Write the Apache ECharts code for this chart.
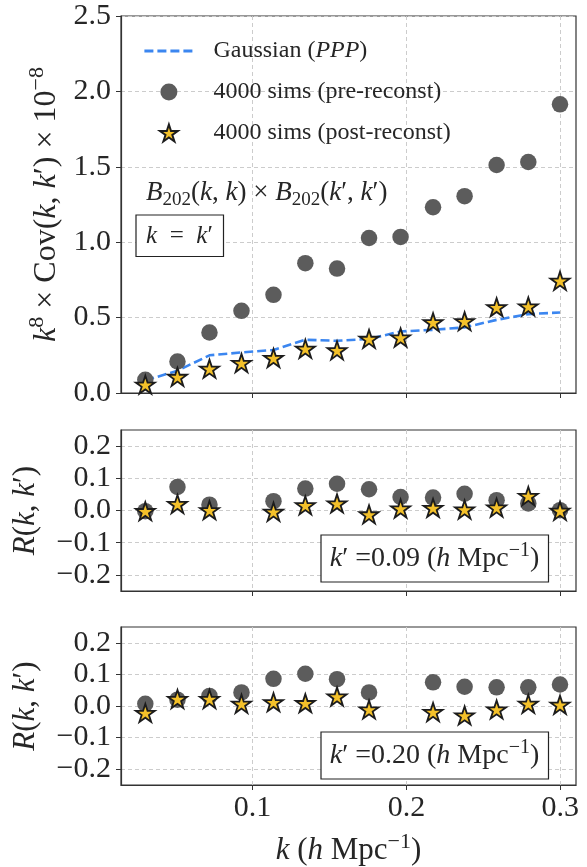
<!DOCTYPE html>
<html>
<head>
<meta charset="utf-8">
<script src="https://cdn.jsdelivr.net/npm/echarts@6/dist/echarts.min.js"></script>
<style>html,body{margin:0;padding:0;background:#fff}#c{width:587px;height:867px}</style>
</head>
<body>
<div id="c"></div>
<script>
// ---- data ----
const kValues = [0.0303, 0.0512, 0.0720, 0.0928, 0.1136, 0.1343, 0.1549, 0.1757, 0.1962, 0.2173, 0.2378, 0.2586, 0.2792, 0.2998];
const gaussianCov = [0.083, 0.148, 0.250, 0.269, 0.285, 0.353, 0.346, 0.358, 0.408, 0.419, 0.435, 0.485, 0.523, 0.534];
const preCov  = [0.088, 0.209, 0.401, 0.545, 0.651, 0.861, 0.825, 1.028, 1.035, 1.232, 1.305, 1.512, 1.532, 1.914];
const postCov = [0.055, 0.107, 0.161, 0.199, 0.232, 0.293, 0.283, 0.359, 0.368, 0.469, 0.476, 0.569, 0.574, 0.744];
// correlation with k' = 0.09 (point at k' omitted)
const r09Pre  = [-0.002, 0.073, 0.018, null, 0.029, 0.068, 0.083, 0.066, 0.042, 0.040, 0.052, 0.032, 0.022, 0.001];
const r09Post = [-0.002, 0.020, 0.001, null, -0.004, 0.016, 0.022, -0.012, 0.006, 0.008, 0.003, 0.009, 0.045, -0.001];
// correlation with k' = 0.20 (point at k' omitted)
const r20Pre  = [0.007, 0.020, 0.032, 0.043, 0.086, 0.102, 0.085, 0.043, null, 0.075, 0.061, 0.059, 0.059, 0.068];
const r20Post = [-0.022, 0.022, 0.022, 0.007, 0.012, 0.009, 0.030, -0.011, null, -0.019, -0.030, -0.011, 0.007, 0.004];
const xTicks = [0.1, 0.2, 0.3];
const covTicks = [0, 0.5, 1.0, 1.5, 2.0, 2.5];
const rTicks = [-0.2, -0.1, 0, 0.1, 0.2];
const seriesNames = ['Gaussian (PPP)', '4000 sims (pre-reconst)', '4000 sims (post-reconst)'];

// ---- styling ----
const FONT = "'Liberation Serif', 'Times New Roman', serif";
const INK = '#262626';
const AXIS = '#333333';
const GRIDC = '#cccccc';
const DOT = '#5c5c5c';
const STARFILL = '#f4c12a';
const BLUE = '#3b86f0';

function starPath() {
  const pts = [];
  for (let j = 0; j < 10; j++) {
    const r = j % 2 === 0 ? 1 : 0.381966;
    const a = Math.PI / 2 + j * Math.PI / 5;
    pts.push((r * Math.cos(a)).toFixed(4) + ' ' + (-r * Math.sin(a)).toFixed(4));
  }
  return 'path://M' + pts.join(' L') + ' Z';
}
const STAR = starPath();

function richE(size) {
  const L = Math.round(size * 1.25);
  const base = {fontFamily: FONT, fontSize: size, color: INK, lineHeight: L};
  return {
    r: base,
    i: Object.assign({}, base, {fontStyle: 'italic'}),
    sup: Object.assign({}, base, {fontSize: Math.round(size * 0.7), verticalAlign: 'top'}),
    sub: Object.assign({}, base, {fontSize: Math.round(size * 0.7), verticalAlign: 'bottom'})
  };
}
function richZ(size) {
  const L = Math.round(size * 1.25);
  const base = {fontFamily: FONT, fontSize: size, fill: INK, lineHeight: L};
  return {
    r: base,
    i: Object.assign({}, base, {fontStyle: 'italic'}),
    sup: Object.assign({}, base, {fontSize: Math.round(size * 0.7), verticalAlign: 'top'}),
    sub: Object.assign({}, base, {fontSize: Math.round(size * 0.7), verticalAlign: 'bottom'})
  };
}

const pairs = (ys) => kValues.map((k, i) => [k, ys[i]]).filter(p => p[1] !== null);
const fmt = (v) => (v < 0 ? '\u2212' : '') + Math.abs(v).toFixed(1);

const grids = [
  {left: 121, width: 455, top: 16, height: 377},
  {left: 121, width: 455, top: 430, height: 161},
  {left: 121, width: 455, top: 627, height: 161}
].map(g => Object.assign(g, {show: true, borderColor: AXIS, borderWidth: 1.2, backgroundColor: 'transparent'}));

function xAxisFor(idx, showLabels) {
  const ax = {
    type: 'value', gridIndex: idx, min: 0.0145, max: 0.3102,
    axisLine: {show: true, onZero: false, lineStyle: {color: AXIS, width: 1.2}},
    axisTick: {show: true, customValues: xTicks, length: 5, lineStyle: {color: AXIS, width: 1}},
    axisLabel: {show: showLabels, customValues: xTicks, formatter: v => v.toFixed(1),
      fontFamily: FONT, fontSize: 30, color: INK, margin: 8},
    splitLine: {show: true, lineStyle: {color: GRIDC, type: [4, 3], width: 1}}
  };
  if (showLabels) {
    ax.name = '{i|k}{r| (}{i|h}{r| Mpc}{sup|\u22121}{r|)}';
    ax.nameLocation = 'middle';
    ax.nameGap = 46;
    ax.nameTextStyle = {rich: richE(31)};
  }
  return ax;
}
function rAxis(idx) {
  return {
    type: 'value', gridIndex: idx, min: -0.25, max: 0.25,
    axisLine: {show: true, onZero: false, lineStyle: {color: AXIS, width: 1.2}},
    axisTick: {show: true, customValues: rTicks, length: 5, lineStyle: {color: AXIS, width: 1}},
    axisLabel: {customValues: rTicks, formatter: fmt, fontFamily: FONT, fontSize: 30, color: INK, margin: 10},
    splitLine: {show: true, lineStyle: {color: GRIDC, type: [4, 3], width: 1}},
    name: '{i|R}{r|(}{i|k}{r|, }{i|k}{r|\u2032)}',
    nameLocation: 'middle', nameGap: 76,
    nameTextStyle: {rich: richE(31)}
  };
}

const dotStyle = {color: DOT, opacity: 1};
const starStyle = {color: STARFILL, borderColor: '#1c1c1c', borderWidth: 1.8, opacity: 1};

function scatterPair(idx, pre, post) {
  return [
    {name: seriesNames[1], type: 'scatter', xAxisIndex: idx, yAxisIndex: idx, data: pairs(pre),
      symbol: 'circle', symbolSize: 16.5, itemStyle: dotStyle, z: 3},
    {name: seriesNames[2], type: 'scatter', xAxisIndex: idx, yAxisIndex: idx, data: pairs(post),
      symbol: STAR, symbolSize: 19, symbolKeepAspect: true, itemStyle: starStyle, z: 4}
  ];
}

const option = {
  animation: false,
  backgroundColor: '#ffffff',
  grid: grids,
  xAxis: [xAxisFor(0, false), xAxisFor(1, false), xAxisFor(2, true)],
  yAxis: [
    {
      type: 'value', gridIndex: 0, min: 0, max: 2.5, interval: 0.5,
      axisLine: {show: true, onZero: false, lineStyle: {color: AXIS, width: 1.2}},
      axisTick: {show: true, length: 5, lineStyle: {color: AXIS, width: 1}},
      axisLabel: {formatter: v => v.toFixed(1), fontFamily: FONT, fontSize: 30, color: INK, margin: 10},
      splitLine: {show: true, lineStyle: {color: GRIDC, type: [4, 3], width: 1}},
      name: '{i|k}{sup|8}{r| \u00d7 Cov(}{i|k}{r|, }{i|k}{r|\u2032) \u00d7 10}{sup|\u22128}',
      nameLocation: 'middle', nameGap: 49,
      nameTextStyle: {rich: richE(32)}
    },
    rAxis(1), rAxis(2)
  ],
  legend: {
    data: [
      {name: seriesNames[0], itemStyle: {opacity: 0}},
      {name: seriesNames[1]},
      {name: seriesNames[2]}
    ],
    orient: 'vertical', left: 143, top: 36, padding: 0,
    itemWidth: 49, itemHeight: 17, itemGap: 11,
    lineStyle: {width: 2.8},
    formatter: name => name === seriesNames[0] ? '{r|Gaussian (}{i|PPP}{r|)}' : '{r|' + name + '}',
    textStyle: {fontFamily: FONT, fontSize: 24, color: INK, lineHeight: 26, padding: [0, 0, 0, 15], rich: richE(24)}
  },
  series: [
    {name: seriesNames[0], type: 'line', xAxisIndex: 0, yAxisIndex: 0, data: pairs(gaussianCov),
      symbol: 'none', showSymbol: false, z: 2,
      lineStyle: {color: BLUE, width: 2.6, type: [9, 4]}, itemStyle: {color: BLUE}},
    ...scatterPair(0, preCov, postCov),
    ...scatterPair(1, r09Pre, r09Post),
    ...scatterPair(2, r20Pre, r20Post)
  ],
  graphic: [
    {type: 'text', x: 146, y: 193, z: 10,
      style: {text: '{i|B}{sub|202}{r|(}{i|k}{r|, }{i|k}{r|) \u00d7 }{i|B}{sub|202}{r|(}{i|k}{r|\u2032, }{i|k}{r|\u2032)}',
        rich: richZ(27), fontFamily: FONT, fontSize: 27, fill: INK, align: 'left', verticalAlign: 'middle'}},
    {type: 'rect', x: 136, y: 215, z: 10, shape: {x: 0, y: 0, width: 87.5, height: 41.5},
      style: {fill: '#fff', stroke: '#222', lineWidth: 1.2}},
    {type: 'text', x: 179.5, y: 236, z: 11,
      style: {text: '{i|k}{r|\u2002=\u2002}{i|k}{r|\u2032}', rich: richZ(25), fontFamily: FONT, fontSize: 25,
        fill: INK, align: 'center', verticalAlign: 'middle'}},
    {type: 'rect', x: 321, y: 535, z: 10, shape: {x: 0, y: 0, width: 227.5, height: 47},
      style: {fill: '#fff', stroke: '#222', lineWidth: 1.2}},
    {type: 'text', x: 434.5, y: 558.5, z: 11,
      style: {text: '{i|k}{r|\u2032 =0.09 (}{i|h}{r| Mpc}{sup|\u22121}{r|)}', rich: richZ(28), fontFamily: FONT, fontSize: 28,
        fill: INK, align: 'center', verticalAlign: 'middle'}},
    {type: 'rect', x: 321, y: 732, z: 10, shape: {x: 0, y: 0, width: 227.5, height: 47},
      style: {fill: '#fff', stroke: '#222', lineWidth: 1.2}},
    {type: 'text', x: 434.5, y: 755.5, z: 11,
      style: {text: '{i|k}{r|\u2032 =0.20 (}{i|h}{r| Mpc}{sup|\u22121}{r|)}', rich: richZ(28), fontFamily: FONT, fontSize: 28,
        fill: INK, align: 'center', verticalAlign: 'middle'}}
  ]
};

const chart = echarts.init(document.getElementById('c'), null, {renderer: 'canvas'});
chart.setOption(option);
</script>
</body>
</html>
